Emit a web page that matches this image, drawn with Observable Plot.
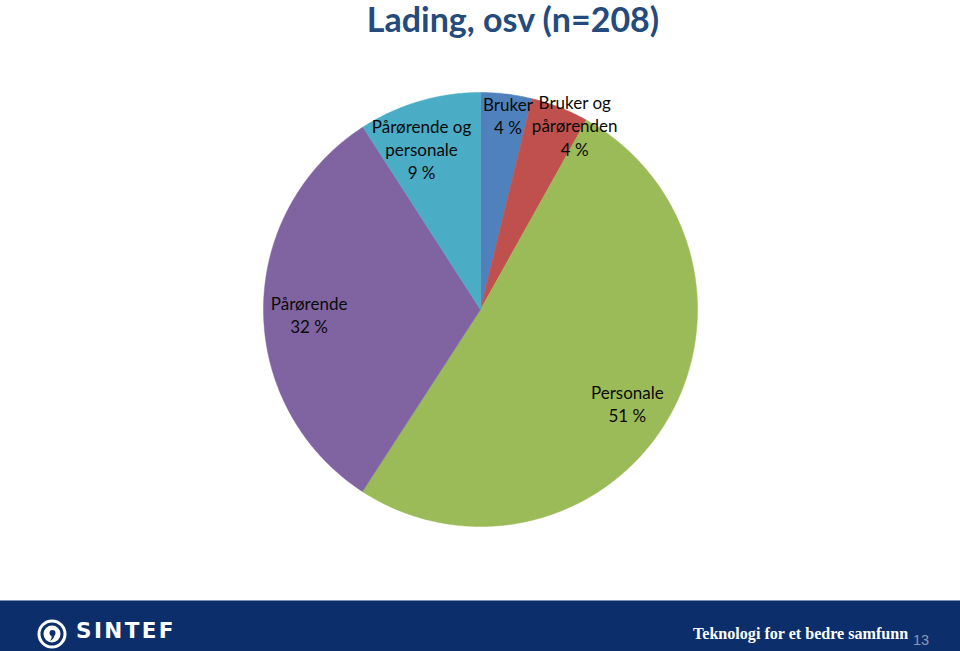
<!DOCTYPE html>
<html><head><meta charset="utf-8">
<script src="https://cdn.jsdelivr.net/npm/d3@7"></script>
<script src="https://cdn.jsdelivr.net/npm/@observablehq/plot@0.6"></script>
<style>
html,body{margin:0;padding:0;background:#fff;width:960px;height:651px;overflow:hidden;font-family:Lato,sans-serif}
#title{position:relative;height:50px;}
#title span{position:absolute;left:0;width:1026px;text-align:center;top:1px;line-height:36px;font-weight:bold;font-size:34px;font-family:Lato,sans-serif;color:#254a7c;white-space:nowrap}
#chart{height:550px;position:relative}
#footer{position:relative;height:51px;background:#0c2f6b;border-top:1px solid #8090b0;box-sizing:border-box}
#footer .brand{position:absolute;left:76px;top:18px;line-height:24px;font-family:"DejaVu Sans",sans-serif;font-weight:bold;font-size:21.5px;color:#fff;letter-spacing:2.4px}
#footer .slogan{position:absolute;left:693px;top:23px;line-height:20px;font-family:"Liberation Serif",serif;font-weight:bold;font-size:16.1px;color:#fff;white-space:nowrap}
#footer .page{position:absolute;left:913px;top:31px;line-height:16px;font-family:"Liberation Sans",sans-serif;font-size:14.5px;color:#8c98b4}
#footer svg{position:absolute;left:36px;top:17px}
</style></head><body>
<div id="title"><span>Lading, osv (n=208)</span></div>
<div id="chart"></div>
<div id="footer">
  <svg width="32" height="32" viewBox="0 0 32 32">
    <circle cx="16" cy="16" r="13" fill="none" stroke="#fff" stroke-width="3"/>
    <circle cx="16" cy="16" r="8.5" fill="#fff"/>
    <circle cx="16.5" cy="15" r="3" fill="#0c2f6b"/>
    <path d="M18.5 16 Q18.5 21 14 23 Q16.5 20 15.5 17 Z" fill="#0c2f6b"/>
  </svg>
  <span class="brand">SINTEF</span>
  <span class="slogan">Teknologi for et bedre samfunn</span>
  <span class="page">13</span>
</div>
<script>
const categories = ["Bruker", "Bruker og pårørenden", "Personale", "Pårørende", "Pårørende og personale"];
const shares = [3.8, 4.3, 51.0, 31.7, 9.1];
const labels = ["Bruker\n4 %", "Bruker og\npårørenden\n4 %", "Personale\n51 %", "Pårørende\n32 %", "Pårørende og\npersonale\n9 %"];
const colors = ["#4F81BD", "#C0504D", "#9BBB59", "#8064A2", "#4BACC6"];

const deg = r => r * 180 / Math.PI;
const arcs = d3.pie().sort(null).value(d => d)(shares);

// slices as spherical wedges around the north pole (azimuthal projection => pie)
const features = arcs.map((a, i) => {
  const a0 = deg(a.startAngle), a1 = deg(a.endAngle);
  const ring = [[0, 90]];
  for (let t = a0; t < a1; t += 0.5) ring.push([180 - t, 0]);
  ring.push([180 - a1, 0]);
  ring.push([0, 90]);
  return {type: "Feature", properties: {category: categories[i]}, geometry: {type: "Polygon", coordinates: [ring]}};
});

// label positions: Excel-like best fit (small neighbouring slices pushed apart and outward)
const labelData = arcs.map((a, i) => {
  let mid = deg((a.startAngle + a.endAngle) / 2);
  const small = shares[i] < 6;
  let f = 0.79;
  if (small) { f = 0.926; mid += 1; }
  if (small && i > 0 && shares[i - 1] < 6) { mid += 4; f = 0.975; }
  if (!small && shares[i] < 15) { mid -= 3.2; f = 0.81; }
  return {lon: 180 - mid, lat: 90 - 90 * f, label: labels[i]};
});

const chart = Plot.plot({
  width: 960,
  height: 550,
  marginTop: 42,
  marginBottom: 74,
  marginLeft: 263,
  marginRight: 263,
  projection: {
    type: "azimuthal-equidistant",
    rotate: [0, -90],
    domain: d3.geoCircle().center([0, 90]).radius(90)()
  },
  color: {domain: categories, range: colors},
  style: {fontFamily: "Lato, sans-serif", background: "white"},
  marks: [
    Plot.geo(features, {fill: d => d.properties.category, stroke: d => d.properties.category, strokeWidth: 0.5}),
    Plot.text(labelData, {x: "lon", y: "lat", text: "label", fontSize: 17, lineHeight: 1.36, dy: 5, fill: "#0a0a0a"})
  ]
});
document.getElementById("chart").appendChild(chart);
</script>
</body></html>
